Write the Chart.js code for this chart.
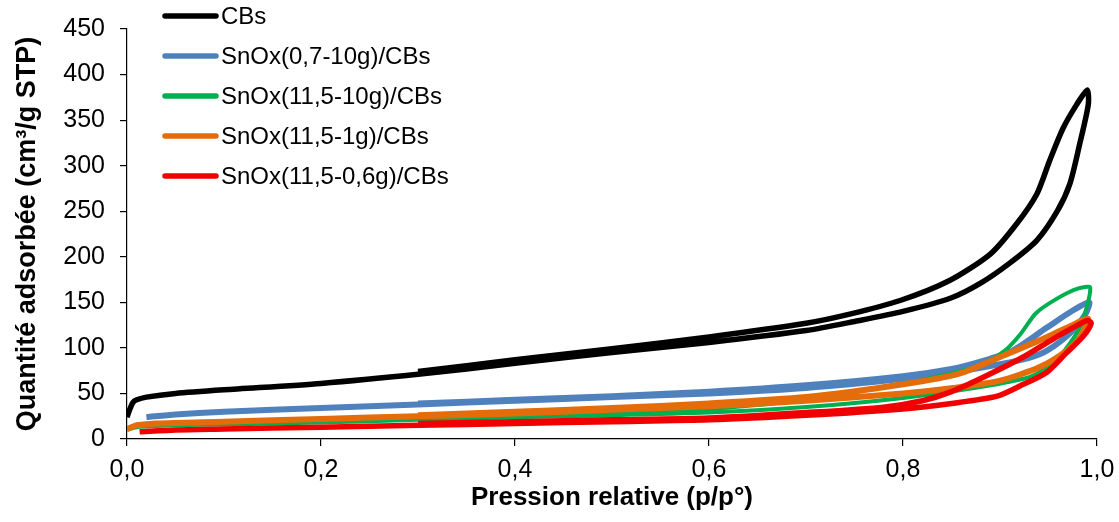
<!DOCTYPE html>
<html>
<head>
<meta charset="utf-8">
<script src="https://cdn.jsdelivr.net/npm/chart.js@4.4.0/dist/chart.umd.min.js"></script>
<style>
    html, body { margin: 0; padding: 0; background: #fff; }
    #wrap { width: 1119px; height: 522px; position: relative; }
</style>
</head>
<body>
<div id="wrap"><canvas id="chart"></canvas></div>
<script>
// Données (boucle : adsorption puis désorption)
const seriesNames = ["CBs", "SnOx(0,7-10g)/CBs", "SnOx(11,5-10g)/CBs", "SnOx(11,5-1g)/CBs", "SnOx(11,5-0,6g)/CBs"];
const xTickLabels = ["0,0", "0,2", "0,4", "0,6", "0,8", "1,0"];
const yTickLabels = ["0", "50", "100", "150", "200", "250", "300", "350", "400", "450"];

const cbsX = [0, 0.003, 0.006, 0.01, 0.02, 0.05, 0.1, 0.2, 0.3, 0.4, 0.5, 0.6, 0.7, 0.75, 0.8, 0.85, 0.88, 0.91, 0.938, 0.959, 0.972, 0.982, 0.991, 0.99,
    0.979, 0.965, 0.951, 0.938, 0.917, 0.89, 0.848, 0.797, 0.745, 0.7, 0.6, 0.5, 0.4, 0.3];
const cbsY = [24, 33, 40, 43, 46, 50, 54, 61, 71, 83, 95, 106, 119, 129, 140, 155, 171, 193, 218, 250, 280, 323, 367, 383,
    367, 341, 305, 269, 236, 203, 174, 152, 137, 127, 112, 99, 87, 74];

const snox07X = [0.02, 0.05, 0.1, 0.2, 0.3, 0.4, 0.5, 0.6, 0.7, 0.8, 0.85, 0.9, 0.93, 0.95, 0.975, 0.988, 0.992,
    0.975, 0.948, 0.913, 0.88, 0.85, 0.8, 0.7, 0.6, 0.5, 0.4, 0.3];
const snox07Y = [24, 27, 30, 34, 38, 42, 46, 50, 56, 66, 73, 82, 89, 98, 119, 137, 150,
    141, 122, 97, 85, 77, 69, 59, 52, 47, 43, 39];

const snox10X = [0, 0.01, 0.05, 0.1, 0.2, 0.3, 0.4, 0.5, 0.6, 0.7, 0.8, 0.88, 0.93, 0.955, 0.972, 0.984, 0.993,
    0.98, 0.957, 0.937, 0.921, 0.905, 0.88, 0.85, 0.8, 0.7, 0.6, 0.5, 0.4, 0.3];
const snox10Y = [10, 13, 15, 16, 18, 21, 24, 26, 29, 35, 45, 57, 68, 83, 105, 126, 166,
    165, 153, 138, 115, 97, 81, 72, 61, 43, 33, 28, 25, 22];

const snox1X = [0, 0.005, 0.01, 0.03, 0.1, 0.2, 0.3, 0.4, 0.5, 0.6, 0.7, 0.8, 0.852, 0.9, 0.941, 0.969, 0.982, 0.991,
    0.969, 0.934, 0.9, 0.859, 0.8, 0.7, 0.6, 0.5, 0.4, 0.3];
const snox1Y = [11, 13, 15, 17, 19, 22, 25, 28, 32, 36, 42, 50, 56, 64, 79, 97, 111, 132,
    122, 105, 90, 72, 60, 46, 39, 34, 30, 26];

const snox06X = [0.013, 0.05, 0.1, 0.2, 0.3, 0.4, 0.5, 0.6, 0.7, 0.8, 0.85, 0.897, 0.924, 0.948, 0.968, 0.986, 0.994,
    0.99, 0.982, 0.955, 0.924, 0.887, 0.85, 0.82, 0.78, 0.7, 0.6, 0.5, 0.4, 0.3];
const snox06Y = [8, 10, 11, 13, 15, 17, 19, 21, 26, 33, 39, 47, 60, 73, 94, 113, 127,
    130, 126, 110, 90, 70, 52, 42, 35, 29, 23, 21, 19, 17];

const colors = ["#000000", "#4F81BD", "#00B050", "#E46C0A", "#F00000"];
const widths = [5.5, 6, 4, 6, 5.5];

function toPoints(xs, ys) {
    return xs.map((x, i) => ({ x: x, y: ys[i] }));
}

const allX = [cbsX, snox07X, snox10X, snox1X, snox06X];
const allY = [cbsY, snox07Y, snox10Y, snox1Y, snox06Y];

const datasets = seriesNames.map((name, i) => ({
    label: name,
    data: toPoints(allX[i], allY[i]),
    borderColor: colors[i],
    backgroundColor: colors[i],
    borderWidth: widths[i],
    pointRadius: 0,
    tension: 0.25,
    fill: false,
    order: seriesNames.length - i,
}));

// Légende dessinée à la main, en haut à gauche sur la zone du graphique
const legendPlugin = {
    id: "legendeManuelle",
    afterDraw(chart) {
        const ctx = chart.ctx;
        ctx.save();
        ctx.font = "24px 'Liberation Sans', Arial, sans-serif";
        ctx.textBaseline = "middle";
        ctx.fillStyle = "#000";
        chart.data.datasets.forEach((ds, i) => {
            const y = 16 + i * 40;
            ctx.beginPath();
            ctx.lineCap = "round";
            ctx.lineWidth = 5.5;
            ctx.strokeStyle = ds.borderColor;
            ctx.moveTo(165, y);
            ctx.lineTo(216, y);
            ctx.stroke();
            ctx.fillText(ds.label, 221, y + 1);
        });
        ctx.restore();
    },
};

new Chart(document.getElementById("chart"), {
    type: "line",
    data: { datasets: datasets },
    plugins: [legendPlugin],
    options: {
        responsive: true,
        maintainAspectRatio: false,
        animation: false,
        layout: { padding: { top: 29, right: 22, left: 0, bottom: 0 } },
        plugins: {
            legend: { display: false },
            tooltip: { enabled: false },
        },
        scales: {
            x: {
                type: "linear",
                min: 0,
                max: 1,
                afterFit: (s) => { s.height = 83; s.paddingRight = 0; s.paddingLeft = 0; },
                ticks: {
                    stepSize: 0.2,
                    padding: 9,
                    color: "#000",
                    font: { family: "'Liberation Sans', Arial", size: 25 },
                    callback: (v) => xTickLabels[Math.round(v / 0.2)],
                },
                grid: { display: true, drawOnChartArea: false, drawTicks: true, tickLength: 7, color: "#000", lineWidth: 1.2 },
                border: { display: true, color: "#000", width: 1.2 },
                title: {
                    display: true,
                    text: "Pression relative (p/p°)",
                    color: "#000",
                    font: { family: "'Liberation Sans', Arial", size: 26, weight: "bold" },
                    padding: { top: 0, bottom: 9 },
                },
            },
            y: {
                min: 0,
                max: 450,
                afterFit: (s) => { s.width = 127; s.paddingTop = 0; s.paddingBottom = 0; },
                ticks: {
                    stepSize: 50,
                    padding: 15,
                    color: "#000",
                    font: { family: "'Liberation Sans', Arial", size: 25 },
                    callback: (v) => yTickLabels[Math.round(v / 50)],
                },
                grid: { display: true, drawOnChartArea: false, drawTicks: true, tickLength: 7, color: "#000", lineWidth: 1.2 },
                border: { display: true, color: "#000", width: 1.2 },
                title: {
                    display: true,
                    text: "Quantité adsorbée (cm³/g STP)",
                    color: "#000",
                    font: { family: "'Liberation Sans', Arial", size: 27, weight: "bold" },
                    padding: { top: 11, bottom: 0 },
                },
            },
        },
    },
});
</script>
</body>
</html>
